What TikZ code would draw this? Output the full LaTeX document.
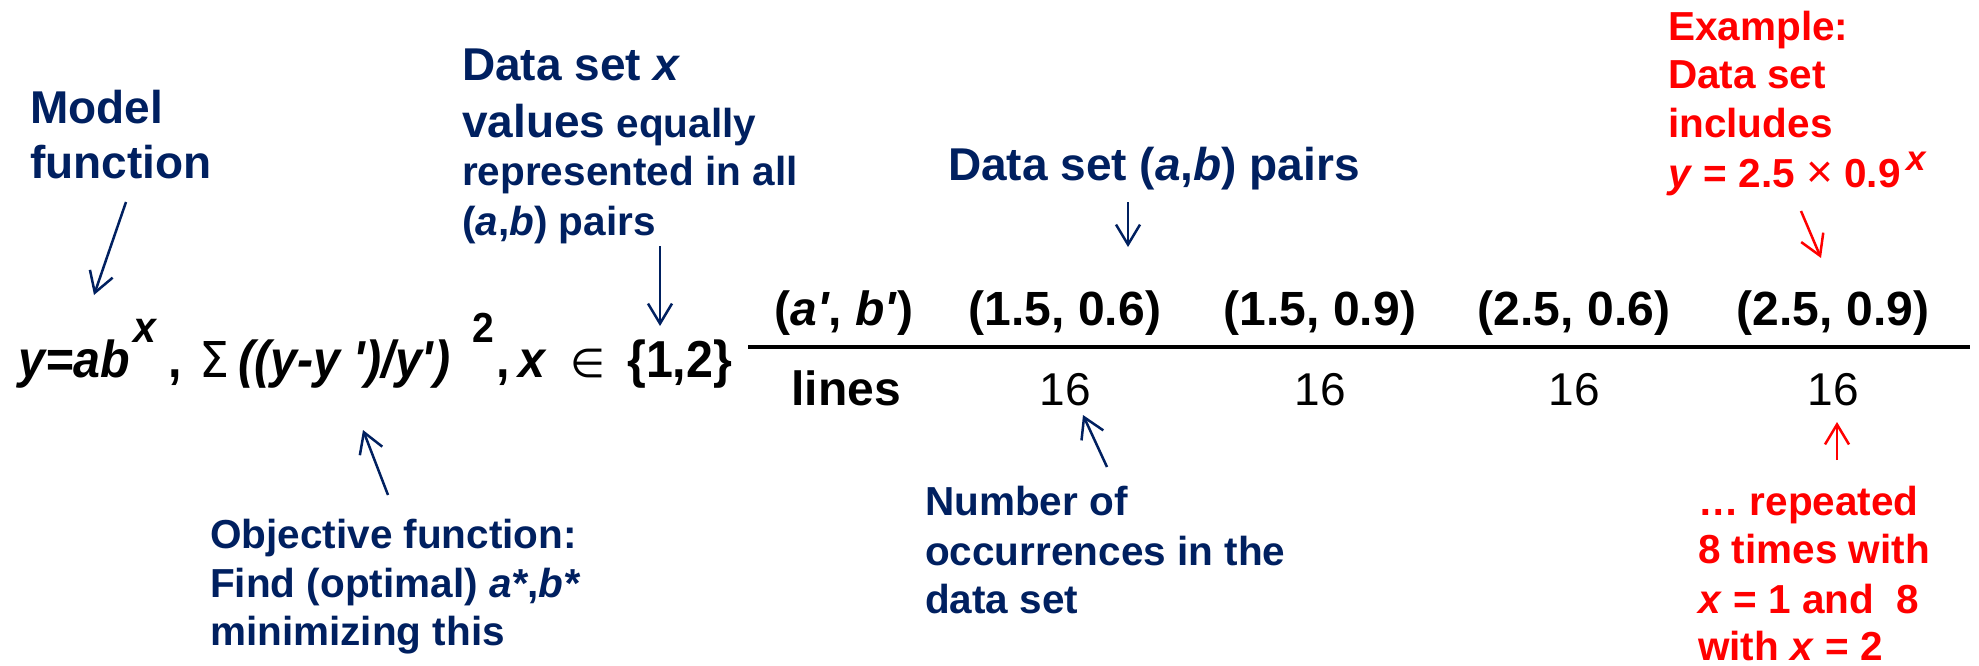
\documentclass[tikz,border=0pt]{standalone}
\usepackage{fontspec}
\usepackage{graphicx}
\setmainfont{Liberation Sans}
\newfontfamily\dvsans{DejaVu Sans}
\newfontfamily\narrowsans[FakeStretch=0.93]{Liberation Sans}
\usetikzlibrary{arrows.meta}
\definecolor{navy}{RGB}{0,32,96}
\definecolor{brightred}{RGB}{255,0,0}

\begin{document}
\begin{tikzpicture}[x=1pt,y=-1pt,
  lbl/.style={inner sep=0pt, anchor=base west, font=\bfseries\fontsize{40.5}{48}\selectfont},
  navylbl/.style={lbl, text=navy},
  redlbl/.style={lbl, text=brightred},
  biglbl/.style={navylbl, font=\bfseries\fontsize{46}{55}\selectfont},
  cell/.style={inner sep=0pt, anchor=base, font=\bfseries\fontsize{48}{58}\selectfont},
  count/.style={inner sep=0pt, anchor=base, font=\fontsize{46}{55}\selectfont},
  fml/.style={inner sep=0pt, anchor=base west, font=\narrowsans\bfseries\itshape\fontsize{52}{60}\selectfont},
  fmlup/.style={inner sep=0pt, anchor=base west, font=\narrowsans\bfseries\fontsize{52}{60}\selectfont},
  fmlsup/.style={inner sep=0pt, anchor=base west, font=\narrowsans\bfseries\fontsize{42}{50}\selectfont},
  fmlsym/.style={inner sep=0pt, anchor=base west},
  pointer/.style={line width=2.5pt, -{Straight Barb[length=20pt,width=24pt]}},
]
\fill[white] (0,0) rectangle (1979,665);
\useasboundingbox (0,0) rectangle (1979,665);

% ---- model function label
\node[biglbl] (model1) at (30,123) {Model};
\node[biglbl] (model2) at (30,178) {function};

% ---- the model and its objective
\node[fml] (f1) at (18,377) {y=ab};
\node[fmlsup, font=\narrowsans\bfseries\itshape\fontsize{44}{50}\selectfont] (f1x) at (133,342) {x};
\node[fmlup] (f2) at (168,377) {,};
\node[fmlsym] (fsig) at (199,377) {\resizebox{30pt}{36pt}{\dvsans\symbol{"03A3}}};
\node[fml] (f3) at (238,377) {((y-y};
\node[fml] (f4) at (353,377) {\textquotesingle)/y\textquotesingle)};
\node[fmlsup] (f4s) at (472,342) {2};
\node[fmlup] (f5) at (496,377) {,};
\node[fml] (f6) at (518,377) {x};
\node[fmlsym] (f7) at (570,377) {\dvsans\fontsize{40}{46}\selectfont\symbol{"2208}};
\node[fmlup] (f8) at (627,377) {\{1,2\}};

% ---- x values label
\node[biglbl] (dx1) at (462,80) {Data set \textit{x}};
\node[navylbl] (dx2) at (462,137) {{\fontsize{46}{55}\selectfont values} equally};
\node[navylbl] (dx3) at (462,185) {represented in all};
\node[navylbl] (dx4) at (462,235) {(\textit{a},\textit{b}) pairs};

% ---- pairs label
\node[biglbl] (pairs) at (948,180) {Data set (\textit{a},\textit{b}) pairs};

% ---- table
\node[cell] (h0) at (844,325) {(\textit{a\textquotesingle}, \textit{b\textquotesingle})};
\node[cell] (h1) at (1065,325) {(1.5, 0.6)};
\node[cell] (h2) at (1320,325) {(1.5, 0.9)};
\node[cell] (h3) at (1574,325) {(2.5, 0.6)};
\node[cell] (h4) at (1833,325) {(2.5, 0.9)};
\coordinate (ruleL) at (748,347);
\coordinate (ruleR) at (1970,347);
\draw[line width=4pt] (ruleL) -- (ruleR);
\node[cell] (r0) at (846,405) {lines};
\node[count] (c1) at (1065,405) {16};
\node[count] (c2) at (1320,405) {16};
\node[count] (c3) at (1574,405) {16};
\node[count] (c4) at (1833,405) {16};

% ---- example (top right)
\node[redlbl] (ex1) at (1668,40) {Example:};
\node[redlbl] (ex2) at (1668,88) {Data set};
\node[redlbl] (ex3) at (1668,137) {includes};
\node[redlbl] (ex4) at (1668,187) {\textit{y} = 2.5 {\mdseries\fontsize{46}{50}\selectfont ×} 0.9\hspace{6pt}\raisebox{17pt}{\fontsize{35}{40}\selectfont\textit{x}}};

% ---- repetition note (bottom right)
\node[redlbl] (rp1) at (1698,515) {… repeated};
\node[redlbl] (rp2) at (1698,563) {8 times with};
\node[redlbl] (rp3) at (1698,613) {\textit{x} = 1 and\ \ 8};
\node[redlbl] (rp4) at (1698,660) {with \textit{x} = 2};

% ---- objective label
\node[navylbl] (ob1) at (210,548) {Objective function:};
\node[navylbl] (ob2) at (210,597) {Find (optimal) \textit{a*},\textit{b*}};
\node[navylbl] (ob3) at (210,645) {minimizing this};

% ---- occurrences label
\node[navylbl] (oc1) at (925,515) {Number of};
\node[navylbl] (oc2) at (925,565) {occurrences in the};
\node[navylbl] (oc3) at (925,613) {data set};

% ---- pointer ends
\coordinate (pModelA) at (126,202);  \coordinate (pModelB) at (94,295);
\coordinate (pXA) at (660,246);      \coordinate (pXB) at (660,326);
\coordinate (pPairA) at (1128,202);  \coordinate (pPairB) at (1128,247);
\coordinate (pExA) at (1801,211);    \coordinate (pExB) at (1821,258);
\coordinate (pObA) at (388,495);     \coordinate (pObB) at (363,430);
\coordinate (pOcA) at (1107,467);    \coordinate (pOcB) at (1083,415);
\coordinate (pRpA) at (1837,460);    \coordinate (pRpB) at (1837,422);

\draw[pointer, navy] (pModelA) -- (pModelB);
\draw[pointer, navy] (pXA) -- (pXB);
\draw[pointer, navy] (pPairA) -- (pPairB);
\draw[pointer, navy] (pObA) -- (pObB);
\draw[pointer, navy] (pOcA) -- (pOcB);
\draw[pointer, brightred] (pExA) -- (pExB);
\draw[pointer, brightred] (pRpA) -- (pRpB);
\end{tikzpicture}
\end{document}
